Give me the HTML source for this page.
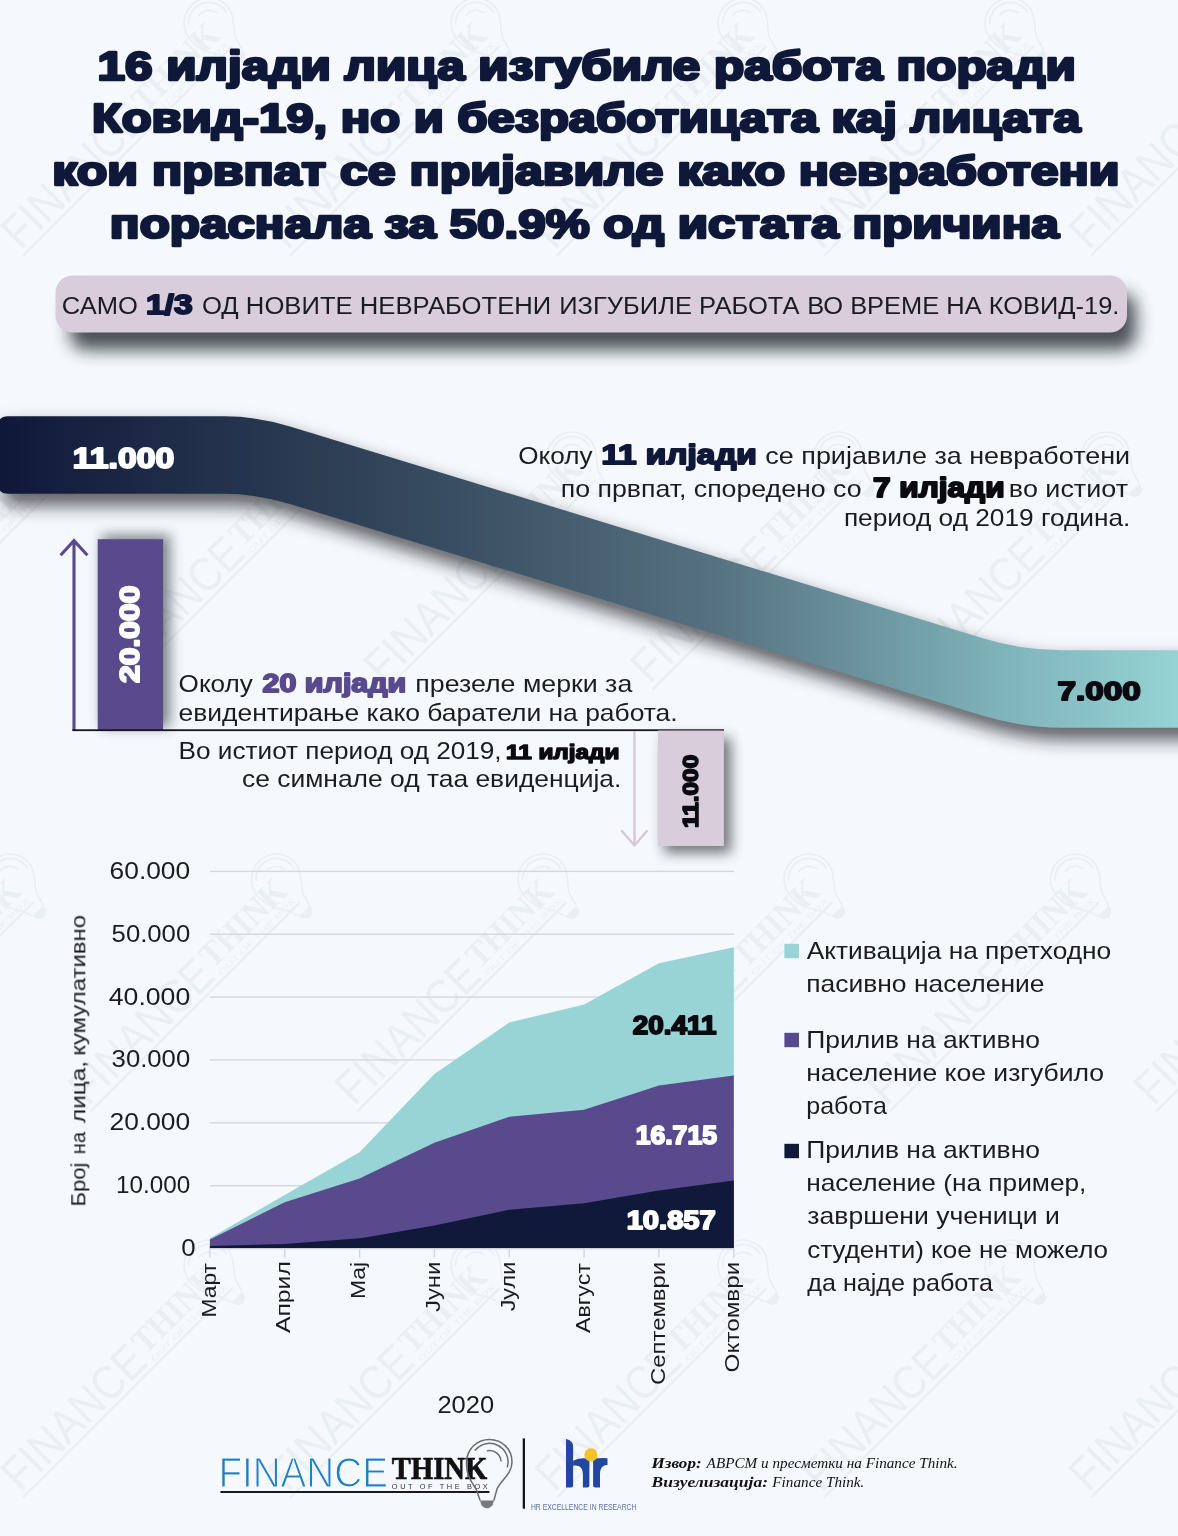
<!DOCTYPE html>
<html lang="mk">
<head>
<meta charset="utf-8">
<title>16 илјади лица изгубиле работа поради Ковид-19</title>
<style>
html,body{margin:0;padding:0;background:#f5f9fd;}
body{width:1178px;height:1536px;overflow:hidden;font-family:'Liberation Sans',sans-serif;}
svg{display:block;}
text{white-space:pre;font-feature-settings:"locl" 0;}
</style>
</head>
<body>
<svg width="1178" height="1536" viewBox="0 0 1178 1536">
<defs>
<linearGradient id="rib" x1="0" y1="0" x2="1178" y2="0" gradientUnits="userSpaceOnUse">
<stop offset="0" stop-color="#10183a"/>
<stop offset="0.3" stop-color="#2f4157"/>
<stop offset="0.6" stop-color="#55707f"/>
<stop offset="0.85" stop-color="#7fb3ba"/>
<stop offset="1" stop-color="#95d3d4"/>
</linearGradient>
<filter id="sh1" x="-10%" y="-80%" width="120%" height="300%"><feGaussianBlur stdDeviation="8.5"/></filter>
<filter id="sh2" x="-10%" y="-50%" width="120%" height="250%"><feGaussianBlur stdDeviation="8.5"/></filter>
<filter id="sh3" x="-50%" y="-20%" width="200%" height="140%"><feGaussianBlur stdDeviation="5"/></filter>
<filter id="sh4" x="-50%" y="-20%" width="200%" height="140%"><feGaussianBlur stdDeviation="6.5"/></filter>
</defs>
<rect width="1178" height="1536" fill="#f5f9fd"/>
<g opacity="0.068" fill="#5f6b78" stroke="none">
<g transform="translate(-246.5,251) rotate(-45) scale(1.1)"><text x="0" y="0" font-family="'Liberation Sans', sans-serif" font-size="42.7" textLength="166" lengthAdjust="spacingAndGlyphs">FINANCE</text><text x="169" y="-8.2" font-family="'Liberation Serif', serif" font-weight="bold" font-size="32" textLength="98" lengthAdjust="spacingAndGlyphs">THINK</text><text x="170" y="1.5" font-family="'Liberation Sans', sans-serif" font-size="6.8" textLength="96" lengthAdjust="spacingAndGlyphs">OUT OF THE BOX</text><rect x="-1.3" y="3.6" width="269" height="2"/><g fill="none" stroke="#5f6b78" stroke-width="1.5"><path d="M258.3,12.6 L254.8,2.6 C250.3,-5.4 244.3,-11.4 244.8,-25.4 C245.3,-39.4 256.3,-47.9 267.8,-47.9 C280.3,-47.9 290.3,-38.4 290.3,-25.4 C290.3,-13.4 279.3,-7.4 275.3,1.6 L272.3,12.6"/><path d="M253.6,-37.3 A18.5,18.5 0 0 1 285.7,-20.6"/><path d="M265.8,-36.7 A11.5,11.5 0 0 1 279.3,-26.4"/></g><path d="M258.3,13.1 L272.3,13.1 L270.8,18.1 Q265.3,23.6 259.8,18.1 Z"/></g>
<g transform="translate(20.5,251) rotate(-45) scale(1.1)"><text x="0" y="0" font-family="'Liberation Sans', sans-serif" font-size="42.7" textLength="166" lengthAdjust="spacingAndGlyphs">FINANCE</text><text x="169" y="-8.2" font-family="'Liberation Serif', serif" font-weight="bold" font-size="32" textLength="98" lengthAdjust="spacingAndGlyphs">THINK</text><text x="170" y="1.5" font-family="'Liberation Sans', sans-serif" font-size="6.8" textLength="96" lengthAdjust="spacingAndGlyphs">OUT OF THE BOX</text><rect x="-1.3" y="3.6" width="269" height="2"/><g fill="none" stroke="#5f6b78" stroke-width="1.5"><path d="M258.3,12.6 L254.8,2.6 C250.3,-5.4 244.3,-11.4 244.8,-25.4 C245.3,-39.4 256.3,-47.9 267.8,-47.9 C280.3,-47.9 290.3,-38.4 290.3,-25.4 C290.3,-13.4 279.3,-7.4 275.3,1.6 L272.3,12.6"/><path d="M253.6,-37.3 A18.5,18.5 0 0 1 285.7,-20.6"/><path d="M265.8,-36.7 A11.5,11.5 0 0 1 279.3,-26.4"/></g><path d="M258.3,13.1 L272.3,13.1 L270.8,18.1 Q265.3,23.6 259.8,18.1 Z"/></g>
<g transform="translate(287.5,251) rotate(-45) scale(1.1)"><text x="0" y="0" font-family="'Liberation Sans', sans-serif" font-size="42.7" textLength="166" lengthAdjust="spacingAndGlyphs">FINANCE</text><text x="169" y="-8.2" font-family="'Liberation Serif', serif" font-weight="bold" font-size="32" textLength="98" lengthAdjust="spacingAndGlyphs">THINK</text><text x="170" y="1.5" font-family="'Liberation Sans', sans-serif" font-size="6.8" textLength="96" lengthAdjust="spacingAndGlyphs">OUT OF THE BOX</text><rect x="-1.3" y="3.6" width="269" height="2"/><g fill="none" stroke="#5f6b78" stroke-width="1.5"><path d="M258.3,12.6 L254.8,2.6 C250.3,-5.4 244.3,-11.4 244.8,-25.4 C245.3,-39.4 256.3,-47.9 267.8,-47.9 C280.3,-47.9 290.3,-38.4 290.3,-25.4 C290.3,-13.4 279.3,-7.4 275.3,1.6 L272.3,12.6"/><path d="M253.6,-37.3 A18.5,18.5 0 0 1 285.7,-20.6"/><path d="M265.8,-36.7 A11.5,11.5 0 0 1 279.3,-26.4"/></g><path d="M258.3,13.1 L272.3,13.1 L270.8,18.1 Q265.3,23.6 259.8,18.1 Z"/></g>
<g transform="translate(554.5,251) rotate(-45) scale(1.1)"><text x="0" y="0" font-family="'Liberation Sans', sans-serif" font-size="42.7" textLength="166" lengthAdjust="spacingAndGlyphs">FINANCE</text><text x="169" y="-8.2" font-family="'Liberation Serif', serif" font-weight="bold" font-size="32" textLength="98" lengthAdjust="spacingAndGlyphs">THINK</text><text x="170" y="1.5" font-family="'Liberation Sans', sans-serif" font-size="6.8" textLength="96" lengthAdjust="spacingAndGlyphs">OUT OF THE BOX</text><rect x="-1.3" y="3.6" width="269" height="2"/><g fill="none" stroke="#5f6b78" stroke-width="1.5"><path d="M258.3,12.6 L254.8,2.6 C250.3,-5.4 244.3,-11.4 244.8,-25.4 C245.3,-39.4 256.3,-47.9 267.8,-47.9 C280.3,-47.9 290.3,-38.4 290.3,-25.4 C290.3,-13.4 279.3,-7.4 275.3,1.6 L272.3,12.6"/><path d="M253.6,-37.3 A18.5,18.5 0 0 1 285.7,-20.6"/><path d="M265.8,-36.7 A11.5,11.5 0 0 1 279.3,-26.4"/></g><path d="M258.3,13.1 L272.3,13.1 L270.8,18.1 Q265.3,23.6 259.8,18.1 Z"/></g>
<g transform="translate(821.5,251) rotate(-45) scale(1.1)"><text x="0" y="0" font-family="'Liberation Sans', sans-serif" font-size="42.7" textLength="166" lengthAdjust="spacingAndGlyphs">FINANCE</text><text x="169" y="-8.2" font-family="'Liberation Serif', serif" font-weight="bold" font-size="32" textLength="98" lengthAdjust="spacingAndGlyphs">THINK</text><text x="170" y="1.5" font-family="'Liberation Sans', sans-serif" font-size="6.8" textLength="96" lengthAdjust="spacingAndGlyphs">OUT OF THE BOX</text><rect x="-1.3" y="3.6" width="269" height="2"/><g fill="none" stroke="#5f6b78" stroke-width="1.5"><path d="M258.3,12.6 L254.8,2.6 C250.3,-5.4 244.3,-11.4 244.8,-25.4 C245.3,-39.4 256.3,-47.9 267.8,-47.9 C280.3,-47.9 290.3,-38.4 290.3,-25.4 C290.3,-13.4 279.3,-7.4 275.3,1.6 L272.3,12.6"/><path d="M253.6,-37.3 A18.5,18.5 0 0 1 285.7,-20.6"/><path d="M265.8,-36.7 A11.5,11.5 0 0 1 279.3,-26.4"/></g><path d="M258.3,13.1 L272.3,13.1 L270.8,18.1 Q265.3,23.6 259.8,18.1 Z"/></g>
<g transform="translate(1088.5,251) rotate(-45) scale(1.1)"><text x="0" y="0" font-family="'Liberation Sans', sans-serif" font-size="42.7" textLength="166" lengthAdjust="spacingAndGlyphs">FINANCE</text><text x="169" y="-8.2" font-family="'Liberation Serif', serif" font-weight="bold" font-size="32" textLength="98" lengthAdjust="spacingAndGlyphs">THINK</text><text x="170" y="1.5" font-family="'Liberation Sans', sans-serif" font-size="6.8" textLength="96" lengthAdjust="spacingAndGlyphs">OUT OF THE BOX</text><rect x="-1.3" y="3.6" width="269" height="2"/><g fill="none" stroke="#5f6b78" stroke-width="1.5"><path d="M258.3,12.6 L254.8,2.6 C250.3,-5.4 244.3,-11.4 244.8,-25.4 C245.3,-39.4 256.3,-47.9 267.8,-47.9 C280.3,-47.9 290.3,-38.4 290.3,-25.4 C290.3,-13.4 279.3,-7.4 275.3,1.6 L272.3,12.6"/><path d="M253.6,-37.3 A18.5,18.5 0 0 1 285.7,-20.6"/><path d="M265.8,-36.7 A11.5,11.5 0 0 1 279.3,-26.4"/></g><path d="M258.3,13.1 L272.3,13.1 L270.8,18.1 Q265.3,23.6 259.8,18.1 Z"/></g>
<g transform="translate(-149.5,685) rotate(-45) scale(1.1)"><text x="0" y="0" font-family="'Liberation Sans', sans-serif" font-size="42.7" textLength="166" lengthAdjust="spacingAndGlyphs">FINANCE</text><text x="169" y="-8.2" font-family="'Liberation Serif', serif" font-weight="bold" font-size="32" textLength="98" lengthAdjust="spacingAndGlyphs">THINK</text><text x="170" y="1.5" font-family="'Liberation Sans', sans-serif" font-size="6.8" textLength="96" lengthAdjust="spacingAndGlyphs">OUT OF THE BOX</text><rect x="-1.3" y="3.6" width="269" height="2"/><g fill="none" stroke="#5f6b78" stroke-width="1.5"><path d="M258.3,12.6 L254.8,2.6 C250.3,-5.4 244.3,-11.4 244.8,-25.4 C245.3,-39.4 256.3,-47.9 267.8,-47.9 C280.3,-47.9 290.3,-38.4 290.3,-25.4 C290.3,-13.4 279.3,-7.4 275.3,1.6 L272.3,12.6"/><path d="M253.6,-37.3 A18.5,18.5 0 0 1 285.7,-20.6"/><path d="M265.8,-36.7 A11.5,11.5 0 0 1 279.3,-26.4"/></g><path d="M258.3,13.1 L272.3,13.1 L270.8,18.1 Q265.3,23.6 259.8,18.1 Z"/></g>
<g transform="translate(117.5,685) rotate(-45) scale(1.1)"><text x="0" y="0" font-family="'Liberation Sans', sans-serif" font-size="42.7" textLength="166" lengthAdjust="spacingAndGlyphs">FINANCE</text><text x="169" y="-8.2" font-family="'Liberation Serif', serif" font-weight="bold" font-size="32" textLength="98" lengthAdjust="spacingAndGlyphs">THINK</text><text x="170" y="1.5" font-family="'Liberation Sans', sans-serif" font-size="6.8" textLength="96" lengthAdjust="spacingAndGlyphs">OUT OF THE BOX</text><rect x="-1.3" y="3.6" width="269" height="2"/><g fill="none" stroke="#5f6b78" stroke-width="1.5"><path d="M258.3,12.6 L254.8,2.6 C250.3,-5.4 244.3,-11.4 244.8,-25.4 C245.3,-39.4 256.3,-47.9 267.8,-47.9 C280.3,-47.9 290.3,-38.4 290.3,-25.4 C290.3,-13.4 279.3,-7.4 275.3,1.6 L272.3,12.6"/><path d="M253.6,-37.3 A18.5,18.5 0 0 1 285.7,-20.6"/><path d="M265.8,-36.7 A11.5,11.5 0 0 1 279.3,-26.4"/></g><path d="M258.3,13.1 L272.3,13.1 L270.8,18.1 Q265.3,23.6 259.8,18.1 Z"/></g>
<g transform="translate(383.5,685) rotate(-45) scale(1.1)"><text x="0" y="0" font-family="'Liberation Sans', sans-serif" font-size="42.7" textLength="166" lengthAdjust="spacingAndGlyphs">FINANCE</text><text x="169" y="-8.2" font-family="'Liberation Serif', serif" font-weight="bold" font-size="32" textLength="98" lengthAdjust="spacingAndGlyphs">THINK</text><text x="170" y="1.5" font-family="'Liberation Sans', sans-serif" font-size="6.8" textLength="96" lengthAdjust="spacingAndGlyphs">OUT OF THE BOX</text><rect x="-1.3" y="3.6" width="269" height="2"/><g fill="none" stroke="#5f6b78" stroke-width="1.5"><path d="M258.3,12.6 L254.8,2.6 C250.3,-5.4 244.3,-11.4 244.8,-25.4 C245.3,-39.4 256.3,-47.9 267.8,-47.9 C280.3,-47.9 290.3,-38.4 290.3,-25.4 C290.3,-13.4 279.3,-7.4 275.3,1.6 L272.3,12.6"/><path d="M253.6,-37.3 A18.5,18.5 0 0 1 285.7,-20.6"/><path d="M265.8,-36.7 A11.5,11.5 0 0 1 279.3,-26.4"/></g><path d="M258.3,13.1 L272.3,13.1 L270.8,18.1 Q265.3,23.6 259.8,18.1 Z"/></g>
<g transform="translate(650.0,685) rotate(-45) scale(1.1)"><text x="0" y="0" font-family="'Liberation Sans', sans-serif" font-size="42.7" textLength="166" lengthAdjust="spacingAndGlyphs">FINANCE</text><text x="169" y="-8.2" font-family="'Liberation Serif', serif" font-weight="bold" font-size="32" textLength="98" lengthAdjust="spacingAndGlyphs">THINK</text><text x="170" y="1.5" font-family="'Liberation Sans', sans-serif" font-size="6.8" textLength="96" lengthAdjust="spacingAndGlyphs">OUT OF THE BOX</text><rect x="-1.3" y="3.6" width="269" height="2"/><g fill="none" stroke="#5f6b78" stroke-width="1.5"><path d="M258.3,12.6 L254.8,2.6 C250.3,-5.4 244.3,-11.4 244.8,-25.4 C245.3,-39.4 256.3,-47.9 267.8,-47.9 C280.3,-47.9 290.3,-38.4 290.3,-25.4 C290.3,-13.4 279.3,-7.4 275.3,1.6 L272.3,12.6"/><path d="M253.6,-37.3 A18.5,18.5 0 0 1 285.7,-20.6"/><path d="M265.8,-36.7 A11.5,11.5 0 0 1 279.3,-26.4"/></g><path d="M258.3,13.1 L272.3,13.1 L270.8,18.1 Q265.3,23.6 259.8,18.1 Z"/></g>
<g transform="translate(917.5,685) rotate(-45) scale(1.1)"><text x="0" y="0" font-family="'Liberation Sans', sans-serif" font-size="42.7" textLength="166" lengthAdjust="spacingAndGlyphs">FINANCE</text><text x="169" y="-8.2" font-family="'Liberation Serif', serif" font-weight="bold" font-size="32" textLength="98" lengthAdjust="spacingAndGlyphs">THINK</text><text x="170" y="1.5" font-family="'Liberation Sans', sans-serif" font-size="6.8" textLength="96" lengthAdjust="spacingAndGlyphs">OUT OF THE BOX</text><rect x="-1.3" y="3.6" width="269" height="2"/><g fill="none" stroke="#5f6b78" stroke-width="1.5"><path d="M258.3,12.6 L254.8,2.6 C250.3,-5.4 244.3,-11.4 244.8,-25.4 C245.3,-39.4 256.3,-47.9 267.8,-47.9 C280.3,-47.9 290.3,-38.4 290.3,-25.4 C290.3,-13.4 279.3,-7.4 275.3,1.6 L272.3,12.6"/><path d="M253.6,-37.3 A18.5,18.5 0 0 1 285.7,-20.6"/><path d="M265.8,-36.7 A11.5,11.5 0 0 1 279.3,-26.4"/></g><path d="M258.3,13.1 L272.3,13.1 L270.8,18.1 Q265.3,23.6 259.8,18.1 Z"/></g>
<g transform="translate(-178.5,1107) rotate(-45) scale(1.1)"><text x="0" y="0" font-family="'Liberation Sans', sans-serif" font-size="42.7" textLength="166" lengthAdjust="spacingAndGlyphs">FINANCE</text><text x="169" y="-8.2" font-family="'Liberation Serif', serif" font-weight="bold" font-size="32" textLength="98" lengthAdjust="spacingAndGlyphs">THINK</text><text x="170" y="1.5" font-family="'Liberation Sans', sans-serif" font-size="6.8" textLength="96" lengthAdjust="spacingAndGlyphs">OUT OF THE BOX</text><rect x="-1.3" y="3.6" width="269" height="2"/><g fill="none" stroke="#5f6b78" stroke-width="1.5"><path d="M258.3,12.6 L254.8,2.6 C250.3,-5.4 244.3,-11.4 244.8,-25.4 C245.3,-39.4 256.3,-47.9 267.8,-47.9 C280.3,-47.9 290.3,-38.4 290.3,-25.4 C290.3,-13.4 279.3,-7.4 275.3,1.6 L272.3,12.6"/><path d="M253.6,-37.3 A18.5,18.5 0 0 1 285.7,-20.6"/><path d="M265.8,-36.7 A11.5,11.5 0 0 1 279.3,-26.4"/></g><path d="M258.3,13.1 L272.3,13.1 L270.8,18.1 Q265.3,23.6 259.8,18.1 Z"/></g>
<g transform="translate(87.9,1107) rotate(-45) scale(1.1)"><text x="0" y="0" font-family="'Liberation Sans', sans-serif" font-size="42.7" textLength="166" lengthAdjust="spacingAndGlyphs">FINANCE</text><text x="169" y="-8.2" font-family="'Liberation Serif', serif" font-weight="bold" font-size="32" textLength="98" lengthAdjust="spacingAndGlyphs">THINK</text><text x="170" y="1.5" font-family="'Liberation Sans', sans-serif" font-size="6.8" textLength="96" lengthAdjust="spacingAndGlyphs">OUT OF THE BOX</text><rect x="-1.3" y="3.6" width="269" height="2"/><g fill="none" stroke="#5f6b78" stroke-width="1.5"><path d="M258.3,12.6 L254.8,2.6 C250.3,-5.4 244.3,-11.4 244.8,-25.4 C245.3,-39.4 256.3,-47.9 267.8,-47.9 C280.3,-47.9 290.3,-38.4 290.3,-25.4 C290.3,-13.4 279.3,-7.4 275.3,1.6 L272.3,12.6"/><path d="M253.6,-37.3 A18.5,18.5 0 0 1 285.7,-20.6"/><path d="M265.8,-36.7 A11.5,11.5 0 0 1 279.3,-26.4"/></g><path d="M258.3,13.1 L272.3,13.1 L270.8,18.1 Q265.3,23.6 259.8,18.1 Z"/></g>
<g transform="translate(354.5,1107) rotate(-45) scale(1.1)"><text x="0" y="0" font-family="'Liberation Sans', sans-serif" font-size="42.7" textLength="166" lengthAdjust="spacingAndGlyphs">FINANCE</text><text x="169" y="-8.2" font-family="'Liberation Serif', serif" font-weight="bold" font-size="32" textLength="98" lengthAdjust="spacingAndGlyphs">THINK</text><text x="170" y="1.5" font-family="'Liberation Sans', sans-serif" font-size="6.8" textLength="96" lengthAdjust="spacingAndGlyphs">OUT OF THE BOX</text><rect x="-1.3" y="3.6" width="269" height="2"/><g fill="none" stroke="#5f6b78" stroke-width="1.5"><path d="M258.3,12.6 L254.8,2.6 C250.3,-5.4 244.3,-11.4 244.8,-25.4 C245.3,-39.4 256.3,-47.9 267.8,-47.9 C280.3,-47.9 290.3,-38.4 290.3,-25.4 C290.3,-13.4 279.3,-7.4 275.3,1.6 L272.3,12.6"/><path d="M253.6,-37.3 A18.5,18.5 0 0 1 285.7,-20.6"/><path d="M265.8,-36.7 A11.5,11.5 0 0 1 279.3,-26.4"/></g><path d="M258.3,13.1 L272.3,13.1 L270.8,18.1 Q265.3,23.6 259.8,18.1 Z"/></g>
<g transform="translate(620.5,1107) rotate(-45) scale(1.1)"><text x="0" y="0" font-family="'Liberation Sans', sans-serif" font-size="42.7" textLength="166" lengthAdjust="spacingAndGlyphs">FINANCE</text><text x="169" y="-8.2" font-family="'Liberation Serif', serif" font-weight="bold" font-size="32" textLength="98" lengthAdjust="spacingAndGlyphs">THINK</text><text x="170" y="1.5" font-family="'Liberation Sans', sans-serif" font-size="6.8" textLength="96" lengthAdjust="spacingAndGlyphs">OUT OF THE BOX</text><rect x="-1.3" y="3.6" width="269" height="2"/><g fill="none" stroke="#5f6b78" stroke-width="1.5"><path d="M258.3,12.6 L254.8,2.6 C250.3,-5.4 244.3,-11.4 244.8,-25.4 C245.3,-39.4 256.3,-47.9 267.8,-47.9 C280.3,-47.9 290.3,-38.4 290.3,-25.4 C290.3,-13.4 279.3,-7.4 275.3,1.6 L272.3,12.6"/><path d="M253.6,-37.3 A18.5,18.5 0 0 1 285.7,-20.6"/><path d="M265.8,-36.7 A11.5,11.5 0 0 1 279.3,-26.4"/></g><path d="M258.3,13.1 L272.3,13.1 L270.8,18.1 Q265.3,23.6 259.8,18.1 Z"/></g>
<g transform="translate(887.0,1107) rotate(-45) scale(1.1)"><text x="0" y="0" font-family="'Liberation Sans', sans-serif" font-size="42.7" textLength="166" lengthAdjust="spacingAndGlyphs">FINANCE</text><text x="169" y="-8.2" font-family="'Liberation Serif', serif" font-weight="bold" font-size="32" textLength="98" lengthAdjust="spacingAndGlyphs">THINK</text><text x="170" y="1.5" font-family="'Liberation Sans', sans-serif" font-size="6.8" textLength="96" lengthAdjust="spacingAndGlyphs">OUT OF THE BOX</text><rect x="-1.3" y="3.6" width="269" height="2"/><g fill="none" stroke="#5f6b78" stroke-width="1.5"><path d="M258.3,12.6 L254.8,2.6 C250.3,-5.4 244.3,-11.4 244.8,-25.4 C245.3,-39.4 256.3,-47.9 267.8,-47.9 C280.3,-47.9 290.3,-38.4 290.3,-25.4 C290.3,-13.4 279.3,-7.4 275.3,1.6 L272.3,12.6"/><path d="M253.6,-37.3 A18.5,18.5 0 0 1 285.7,-20.6"/><path d="M265.8,-36.7 A11.5,11.5 0 0 1 279.3,-26.4"/></g><path d="M258.3,13.1 L272.3,13.1 L270.8,18.1 Q265.3,23.6 259.8,18.1 Z"/></g>
<g transform="translate(1153.5,1107) rotate(-45) scale(1.1)"><text x="0" y="0" font-family="'Liberation Sans', sans-serif" font-size="42.7" textLength="166" lengthAdjust="spacingAndGlyphs">FINANCE</text><text x="169" y="-8.2" font-family="'Liberation Serif', serif" font-weight="bold" font-size="32" textLength="98" lengthAdjust="spacingAndGlyphs">THINK</text><text x="170" y="1.5" font-family="'Liberation Sans', sans-serif" font-size="6.8" textLength="96" lengthAdjust="spacingAndGlyphs">OUT OF THE BOX</text><rect x="-1.3" y="3.6" width="269" height="2"/><g fill="none" stroke="#5f6b78" stroke-width="1.5"><path d="M258.3,12.6 L254.8,2.6 C250.3,-5.4 244.3,-11.4 244.8,-25.4 C245.3,-39.4 256.3,-47.9 267.8,-47.9 C280.3,-47.9 290.3,-38.4 290.3,-25.4 C290.3,-13.4 279.3,-7.4 275.3,1.6 L272.3,12.6"/><path d="M253.6,-37.3 A18.5,18.5 0 0 1 285.7,-20.6"/><path d="M265.8,-36.7 A11.5,11.5 0 0 1 279.3,-26.4"/></g><path d="M258.3,13.1 L272.3,13.1 L270.8,18.1 Q265.3,23.6 259.8,18.1 Z"/></g>
<g transform="translate(-246.5,1493) rotate(-45) scale(1.1)"><text x="0" y="0" font-family="'Liberation Sans', sans-serif" font-size="42.7" textLength="166" lengthAdjust="spacingAndGlyphs">FINANCE</text><text x="169" y="-8.2" font-family="'Liberation Serif', serif" font-weight="bold" font-size="32" textLength="98" lengthAdjust="spacingAndGlyphs">THINK</text><text x="170" y="1.5" font-family="'Liberation Sans', sans-serif" font-size="6.8" textLength="96" lengthAdjust="spacingAndGlyphs">OUT OF THE BOX</text><rect x="-1.3" y="3.6" width="269" height="2"/><g fill="none" stroke="#5f6b78" stroke-width="1.5"><path d="M258.3,12.6 L254.8,2.6 C250.3,-5.4 244.3,-11.4 244.8,-25.4 C245.3,-39.4 256.3,-47.9 267.8,-47.9 C280.3,-47.9 290.3,-38.4 290.3,-25.4 C290.3,-13.4 279.3,-7.4 275.3,1.6 L272.3,12.6"/><path d="M253.6,-37.3 A18.5,18.5 0 0 1 285.7,-20.6"/><path d="M265.8,-36.7 A11.5,11.5 0 0 1 279.3,-26.4"/></g><path d="M258.3,13.1 L272.3,13.1 L270.8,18.1 Q265.3,23.6 259.8,18.1 Z"/></g>
<g transform="translate(20.5,1493) rotate(-45) scale(1.1)"><text x="0" y="0" font-family="'Liberation Sans', sans-serif" font-size="42.7" textLength="166" lengthAdjust="spacingAndGlyphs">FINANCE</text><text x="169" y="-8.2" font-family="'Liberation Serif', serif" font-weight="bold" font-size="32" textLength="98" lengthAdjust="spacingAndGlyphs">THINK</text><text x="170" y="1.5" font-family="'Liberation Sans', sans-serif" font-size="6.8" textLength="96" lengthAdjust="spacingAndGlyphs">OUT OF THE BOX</text><rect x="-1.3" y="3.6" width="269" height="2"/><g fill="none" stroke="#5f6b78" stroke-width="1.5"><path d="M258.3,12.6 L254.8,2.6 C250.3,-5.4 244.3,-11.4 244.8,-25.4 C245.3,-39.4 256.3,-47.9 267.8,-47.9 C280.3,-47.9 290.3,-38.4 290.3,-25.4 C290.3,-13.4 279.3,-7.4 275.3,1.6 L272.3,12.6"/><path d="M253.6,-37.3 A18.5,18.5 0 0 1 285.7,-20.6"/><path d="M265.8,-36.7 A11.5,11.5 0 0 1 279.3,-26.4"/></g><path d="M258.3,13.1 L272.3,13.1 L270.8,18.1 Q265.3,23.6 259.8,18.1 Z"/></g>
<g transform="translate(287.5,1493) rotate(-45) scale(1.1)"><text x="0" y="0" font-family="'Liberation Sans', sans-serif" font-size="42.7" textLength="166" lengthAdjust="spacingAndGlyphs">FINANCE</text><text x="169" y="-8.2" font-family="'Liberation Serif', serif" font-weight="bold" font-size="32" textLength="98" lengthAdjust="spacingAndGlyphs">THINK</text><text x="170" y="1.5" font-family="'Liberation Sans', sans-serif" font-size="6.8" textLength="96" lengthAdjust="spacingAndGlyphs">OUT OF THE BOX</text><rect x="-1.3" y="3.6" width="269" height="2"/><g fill="none" stroke="#5f6b78" stroke-width="1.5"><path d="M258.3,12.6 L254.8,2.6 C250.3,-5.4 244.3,-11.4 244.8,-25.4 C245.3,-39.4 256.3,-47.9 267.8,-47.9 C280.3,-47.9 290.3,-38.4 290.3,-25.4 C290.3,-13.4 279.3,-7.4 275.3,1.6 L272.3,12.6"/><path d="M253.6,-37.3 A18.5,18.5 0 0 1 285.7,-20.6"/><path d="M265.8,-36.7 A11.5,11.5 0 0 1 279.3,-26.4"/></g><path d="M258.3,13.1 L272.3,13.1 L270.8,18.1 Q265.3,23.6 259.8,18.1 Z"/></g>
<g transform="translate(554.5,1493) rotate(-45) scale(1.1)"><text x="0" y="0" font-family="'Liberation Sans', sans-serif" font-size="42.7" textLength="166" lengthAdjust="spacingAndGlyphs">FINANCE</text><text x="169" y="-8.2" font-family="'Liberation Serif', serif" font-weight="bold" font-size="32" textLength="98" lengthAdjust="spacingAndGlyphs">THINK</text><text x="170" y="1.5" font-family="'Liberation Sans', sans-serif" font-size="6.8" textLength="96" lengthAdjust="spacingAndGlyphs">OUT OF THE BOX</text><rect x="-1.3" y="3.6" width="269" height="2"/><g fill="none" stroke="#5f6b78" stroke-width="1.5"><path d="M258.3,12.6 L254.8,2.6 C250.3,-5.4 244.3,-11.4 244.8,-25.4 C245.3,-39.4 256.3,-47.9 267.8,-47.9 C280.3,-47.9 290.3,-38.4 290.3,-25.4 C290.3,-13.4 279.3,-7.4 275.3,1.6 L272.3,12.6"/><path d="M253.6,-37.3 A18.5,18.5 0 0 1 285.7,-20.6"/><path d="M265.8,-36.7 A11.5,11.5 0 0 1 279.3,-26.4"/></g><path d="M258.3,13.1 L272.3,13.1 L270.8,18.1 Q265.3,23.6 259.8,18.1 Z"/></g>
<g transform="translate(821.5,1493) rotate(-45) scale(1.1)"><text x="0" y="0" font-family="'Liberation Sans', sans-serif" font-size="42.7" textLength="166" lengthAdjust="spacingAndGlyphs">FINANCE</text><text x="169" y="-8.2" font-family="'Liberation Serif', serif" font-weight="bold" font-size="32" textLength="98" lengthAdjust="spacingAndGlyphs">THINK</text><text x="170" y="1.5" font-family="'Liberation Sans', sans-serif" font-size="6.8" textLength="96" lengthAdjust="spacingAndGlyphs">OUT OF THE BOX</text><rect x="-1.3" y="3.6" width="269" height="2"/><g fill="none" stroke="#5f6b78" stroke-width="1.5"><path d="M258.3,12.6 L254.8,2.6 C250.3,-5.4 244.3,-11.4 244.8,-25.4 C245.3,-39.4 256.3,-47.9 267.8,-47.9 C280.3,-47.9 290.3,-38.4 290.3,-25.4 C290.3,-13.4 279.3,-7.4 275.3,1.6 L272.3,12.6"/><path d="M253.6,-37.3 A18.5,18.5 0 0 1 285.7,-20.6"/><path d="M265.8,-36.7 A11.5,11.5 0 0 1 279.3,-26.4"/></g><path d="M258.3,13.1 L272.3,13.1 L270.8,18.1 Q265.3,23.6 259.8,18.1 Z"/></g>
<g transform="translate(1088.5,1493) rotate(-45) scale(1.1)"><text x="0" y="0" font-family="'Liberation Sans', sans-serif" font-size="42.7" textLength="166" lengthAdjust="spacingAndGlyphs">FINANCE</text><text x="169" y="-8.2" font-family="'Liberation Serif', serif" font-weight="bold" font-size="32" textLength="98" lengthAdjust="spacingAndGlyphs">THINK</text><text x="170" y="1.5" font-family="'Liberation Sans', sans-serif" font-size="6.8" textLength="96" lengthAdjust="spacingAndGlyphs">OUT OF THE BOX</text><rect x="-1.3" y="3.6" width="269" height="2"/><g fill="none" stroke="#5f6b78" stroke-width="1.5"><path d="M258.3,12.6 L254.8,2.6 C250.3,-5.4 244.3,-11.4 244.8,-25.4 C245.3,-39.4 256.3,-47.9 267.8,-47.9 C280.3,-47.9 290.3,-38.4 290.3,-25.4 C290.3,-13.4 279.3,-7.4 275.3,1.6 L272.3,12.6"/><path d="M253.6,-37.3 A18.5,18.5 0 0 1 285.7,-20.6"/><path d="M265.8,-36.7 A11.5,11.5 0 0 1 279.3,-26.4"/></g><path d="M258.3,13.1 L272.3,13.1 L270.8,18.1 Q265.3,23.6 259.8,18.1 Z"/></g>
</g>

<text x="97.58" y="79.8" font-family="'Liberation Sans', sans-serif" font-size="40" fill="#10183a" font-weight="bold" textLength="978.17" lengthAdjust="spacingAndGlyphs" stroke="#10183a" stroke-width="2.7" stroke-linejoin="round">16 илјади лица изгубиле работа поради</text>
<text x="91.9" y="132.4" font-family="'Liberation Sans', sans-serif" font-size="40" fill="#10183a" font-weight="bold" textLength="988.62" lengthAdjust="spacingAndGlyphs" stroke="#10183a" stroke-width="2.7" stroke-linejoin="round">Ковид-19, но и безработицата кај лицата</text>
<text x="52.35" y="185" font-family="'Liberation Sans', sans-serif" font-size="40" fill="#10183a" font-weight="bold" textLength="1067.24" lengthAdjust="spacingAndGlyphs" stroke="#10183a" stroke-width="2.7" stroke-linejoin="round">кои првпат се пријавиле како невработени</text>
<text x="109.88" y="237.6" font-family="'Liberation Sans', sans-serif" font-size="40" fill="#10183a" font-weight="bold" textLength="949.04" lengthAdjust="spacingAndGlyphs" stroke="#10183a" stroke-width="2.7" stroke-linejoin="round">пораснала за 50.9% од истата причина</text>
<rect x="70" y="293" width="1066" height="57" rx="16" fill="#2c3037" opacity="0.85" filter="url(#sh1)"/>
<rect x="55.5" y="275.5" width="1071.5" height="57" rx="17" fill="#d9cddc"/>
<text x="61.87" y="314" font-family="'Liberation Sans', sans-serif" font-size="24.8" fill="#1b1b22" textLength="76.03" lengthAdjust="spacingAndGlyphs">САМО</text>
<text x="201.97" y="314" font-family="'Liberation Sans', sans-serif" font-size="24.8" fill="#1b1b22" textLength="349.32" lengthAdjust="spacingAndGlyphs">ОД НОВИТЕ НЕВРАБОТЕНИ</text>
<text x="559.24" y="314" font-family="'Liberation Sans', sans-serif" font-size="24.8" fill="#1b1b22" textLength="240.29" lengthAdjust="spacingAndGlyphs">ИЗГУБИЛЕ РАБОТА</text>
<text x="807.15" y="314" font-family="'Liberation Sans', sans-serif" font-size="24.8" fill="#1b1b22" textLength="312.29" lengthAdjust="spacingAndGlyphs">ВО ВРЕМЕ НА КОВИД-19.</text>
<text x="145.92" y="314" font-family="'Liberation Sans', sans-serif" font-size="28.5" fill="#10183a" font-weight="bold" textLength="46.68" lengthAdjust="spacingAndGlyphs" stroke="#10183a" stroke-width="2.0" stroke-linejoin="round">1/3</text>
<path d="M9,419.3 L225,419.3 Q258,419.3 291,429.4 L983,641.1 Q1023,653.3 1063,653.3 L1201,653.3 L1201,730.8 L1063,730.8 Q1023,730.8 983,718.6 L291,506.9 Q258,496.8 225,496.8 L9,496.8 Q-1,496.8 -1,486.8 L-1,429.3 Q-1,419.3 9,419.3 Z" fill="#1a1e24" opacity="0.16" filter="url(#sh2)"/>
<path d="M14,429.3 L230,429.3 Q263,429.3 296,439.4 L988,651.1 Q1028,663.3 1068,663.3 L1206,663.3 L1206,740.8 L1068,740.8 Q1028,740.8 988,728.6 L296,516.9 Q263,506.8 230,506.8 L14,506.8 Q4,506.8 4,496.8 L4,439.3 Q4,429.3 14,429.3 Z" fill="#1a1e24" opacity="0.62" filter="url(#sh2)"/>
<path d="M8,416.3 L224,416.3 Q257,416.3 290,426.4 L982,638.1 Q1022,650.3 1062,650.3 L1200,650.3 L1200,727.8 L1062,727.8 Q1022,727.8 982,715.6 L290,503.9 Q257,493.8 224,493.8 L8,493.8 Q-2,493.8 -2,483.8 L-2,426.3 Q-2,416.3 8,416.3 Z" fill="url(#rib)"/>
<text x="72.84" y="467.7" font-family="'Liberation Sans', sans-serif" font-size="29" fill="#ffffff" font-weight="bold" textLength="101.38" lengthAdjust="spacingAndGlyphs" stroke="#ffffff" stroke-width="2.0" stroke-linejoin="round">11.000</text>
<text x="1057.59" y="700.1" font-family="'Liberation Sans', sans-serif" font-size="26.5" fill="#0a0a10" font-weight="bold" textLength="83.28" lengthAdjust="spacingAndGlyphs" stroke="#0a0a10" stroke-width="1.9" stroke-linejoin="round">7.000</text>
<text x="518.21" y="464.2" font-family="'Liberation Sans', sans-serif" font-size="24" fill="#1b1b22" textLength="74.29" lengthAdjust="spacingAndGlyphs">Околу</text>
<text x="601.41" y="464.2" font-family="'Liberation Sans', sans-serif" font-size="28" fill="#10183a" font-weight="bold" textLength="155.33" lengthAdjust="spacingAndGlyphs" stroke="#10183a" stroke-width="2.0" stroke-linejoin="round">11 илјади</text>
<text x="765.38" y="464.2" font-family="'Liberation Sans', sans-serif" font-size="24" fill="#1b1b22" textLength="364.7" lengthAdjust="spacingAndGlyphs">се пријавиле за невработени</text>
<text x="560.69" y="497.4" font-family="'Liberation Sans', sans-serif" font-size="24" fill="#1b1b22" textLength="300.9" lengthAdjust="spacingAndGlyphs">по првпат, споредено со</text>
<text x="872.97" y="497.4" font-family="'Liberation Sans', sans-serif" font-size="28" fill="#0a0a10" font-weight="bold" textLength="131.6" lengthAdjust="spacingAndGlyphs" stroke="#0a0a10" stroke-width="2.0" stroke-linejoin="round">7 илјади</text>
<text x="1008.88" y="497.4" font-family="'Liberation Sans', sans-serif" font-size="24" fill="#1b1b22" textLength="119.11" lengthAdjust="spacingAndGlyphs">во истиот</text>
<text x="843.91" y="526.4" font-family="'Liberation Sans', sans-serif" font-size="24" fill="#1b1b22" textLength="286.42" lengthAdjust="spacingAndGlyphs">период од 2019 година.</text>
<rect x="102" y="535" width="68" height="192" fill="#2c3037" opacity="0.6" filter="url(#sh4)"/>
<rect x="97.7" y="539.2" width="65.4" height="191" fill="#584a8c"/>
<path d="M74,730 L74,541.5 M60.6,555.2 L74,540.6 L87.4,555.2" fill="none" stroke="#584a8c" stroke-width="3.1"/>
<rect x="72.3" y="729.3" width="651.7" height="1.8" fill="#15151c"/>
<g transform="translate(138.6,684) rotate(-90)">
<text x="1.0" y="0" font-family="'Liberation Sans', sans-serif" font-size="27" fill="#ffffff" font-weight="bold" textLength="97.6" lengthAdjust="spacingAndGlyphs" stroke="#ffffff" stroke-width="2.0" stroke-linejoin="round">20.000</text>
</g>
<text x="178.61" y="691.8" font-family="'Liberation Sans', sans-serif" font-size="24" fill="#1b1b22" textLength="74.19" lengthAdjust="spacingAndGlyphs">Околу</text>
<text x="262.6" y="691.8" font-family="'Liberation Sans', sans-serif" font-size="25" fill="#584a8c" font-weight="bold" textLength="143.67" lengthAdjust="spacingAndGlyphs" stroke="#584a8c" stroke-width="1.8" stroke-linejoin="round">20 илјади</text>
<text x="415.39" y="691.8" font-family="'Liberation Sans', sans-serif" font-size="24" fill="#1b1b22" textLength="216.89" lengthAdjust="spacingAndGlyphs">презеле мерки за</text>
<text x="178.6" y="721.1" font-family="'Liberation Sans', sans-serif" font-size="24" fill="#1b1b22" textLength="499.04" lengthAdjust="spacingAndGlyphs">евидентирање како баратели на работа.</text>
<text x="178.61" y="758.5" font-family="'Liberation Sans', sans-serif" font-size="24" fill="#1b1b22" textLength="323.01" lengthAdjust="spacingAndGlyphs">Во истиот период од 2019,</text>
<text x="505.96" y="758.5" font-family="'Liberation Sans', sans-serif" font-size="20.5" fill="#0a0a10" font-weight="bold" textLength="113.5" lengthAdjust="spacingAndGlyphs" stroke="#0a0a10" stroke-width="1.5" stroke-linejoin="round">11 илјади</text>
<text x="242.0" y="787" font-family="'Liberation Sans', sans-serif" font-size="24" fill="#1b1b22" textLength="379.34" lengthAdjust="spacingAndGlyphs">се симнале од таа евиденција.</text>
<rect x="664" y="738" width="67" height="115" fill="#2a2d33" opacity="0.65" filter="url(#sh4)"/>
<rect x="657.9" y="730.5" width="66" height="115.5" fill="#d9cddc"/>
<path d="M634.5,731 L634.5,844.5 M621.3,830.3 L634.5,845.5 L647.5,830.3" fill="none" stroke="#d6c8d9" stroke-width="2.4"/>
<g transform="translate(698,827.7) rotate(-90)">
<text x="-0.28" y="0" font-family="'Liberation Sans', sans-serif" font-size="22.5" fill="#0a0a10" font-weight="bold" textLength="73.14" lengthAdjust="spacingAndGlyphs" stroke="#0a0a10" stroke-width="1.6" stroke-linejoin="round">11.000</text>
</g>
<rect x="209.9" y="1185.0" width="524.3" height="1.4" fill="#d6d7db"/>
<text x="115.95" y="1193.1" font-family="'Liberation Sans', sans-serif" font-size="23.2" fill="#1b1b22" textLength="74.18" lengthAdjust="spacingAndGlyphs">10.000</text>
<rect x="209.9" y="1122.1" width="524.3" height="1.4" fill="#d6d7db"/>
<text x="109.56" y="1130.2" font-family="'Liberation Sans', sans-serif" font-size="23.2" fill="#1b1b22" textLength="80.66" lengthAdjust="spacingAndGlyphs">20.000</text>
<rect x="209.9" y="1059.2" width="524.3" height="1.4" fill="#d6d7db"/>
<text x="111.6" y="1067.4" font-family="'Liberation Sans', sans-serif" font-size="23.2" fill="#1b1b22" textLength="78.59" lengthAdjust="spacingAndGlyphs">30.000</text>
<rect x="209.9" y="996.4" width="524.3" height="1.4" fill="#d6d7db"/>
<text x="108.8" y="1004.5" font-family="'Liberation Sans', sans-serif" font-size="23.2" fill="#1b1b22" textLength="81.43" lengthAdjust="spacingAndGlyphs">40.000</text>
<rect x="209.9" y="933.5" width="524.3" height="1.4" fill="#d6d7db"/>
<text x="111.6" y="941.6" font-family="'Liberation Sans', sans-serif" font-size="23.2" fill="#1b1b22" textLength="78.59" lengthAdjust="spacingAndGlyphs">50.000</text>
<rect x="209.9" y="870.7" width="524.3" height="1.4" fill="#d6d7db"/>
<text x="109.56" y="878.8" font-family="'Liberation Sans', sans-serif" font-size="23.2" fill="#1b1b22" textLength="80.66" lengthAdjust="spacingAndGlyphs">60.000</text>
<text x="181.2" y="1256.1" font-family="'Liberation Sans', sans-serif" font-size="23.2" fill="#1b1b22" textLength="14.4" lengthAdjust="spacingAndGlyphs">0</text>
<polygon points="209.9,1248.5 209.9,1238.3 284.7,1195 359.6,1152.2 434.4,1074 509.3,1022.4 584.1,1004.5 658.9,963.3 733.8,947.2 733.8,1248.5" fill="#98d3d5"/>
<polygon points="209.9,1248.5 209.9,1239.6 284.7,1202.2 359.6,1178.5 434.4,1142.8 509.3,1116.8 584.1,1109.7 658.9,1085.5 733.8,1075.5 733.8,1248.5" fill="#584a8c"/>
<polygon points="209.9,1248.5 209.9,1246 284.7,1243.9 359.6,1238.3 434.4,1225.6 509.3,1209.8 584.1,1203.2 658.9,1190.4 733.8,1180.5 733.8,1248.5" fill="#11193a"/>
<rect x="209.9" y="1248.0" width="524.3" height="1.4" fill="#d0d2d8"/>
<rect x="209.2" y="1248.5" width="1.4" height="9" fill="#d3d5da"/>
<rect x="284.0" y="1248.5" width="1.4" height="9" fill="#d3d5da"/>
<rect x="358.9" y="1248.5" width="1.4" height="9" fill="#d3d5da"/>
<rect x="433.7" y="1248.5" width="1.4" height="9" fill="#d3d5da"/>
<rect x="508.6" y="1248.5" width="1.4" height="9" fill="#d3d5da"/>
<rect x="583.4" y="1248.5" width="1.4" height="9" fill="#d3d5da"/>
<rect x="658.2" y="1248.5" width="1.4" height="9" fill="#d3d5da"/>
<rect x="733.1" y="1248.5" width="1.4" height="9" fill="#d3d5da"/>
<text x="632.85" y="1033.8" font-family="'Liberation Sans', sans-serif" font-size="26.5" fill="#0a0a10" font-weight="bold" textLength="83.68" lengthAdjust="spacingAndGlyphs" stroke="#0a0a10" stroke-width="1.9" stroke-linejoin="round">20.411</text>
<text x="635.65" y="1143.6" font-family="'Liberation Sans', sans-serif" font-size="26.5" fill="#ffffff" font-weight="bold" textLength="81.34" lengthAdjust="spacingAndGlyphs" stroke="#ffffff" stroke-width="1.9" stroke-linejoin="round">16.715</text>
<text x="626.65" y="1228.9" font-family="'Liberation Sans', sans-serif" font-size="26.5" fill="#ffffff" font-weight="bold" textLength="89.11" lengthAdjust="spacingAndGlyphs" stroke="#ffffff" stroke-width="1.9" stroke-linejoin="round">10.857</text>
<g transform="translate(215.5,1316.4) rotate(-90)">
<text x="-1.09" y="0" font-family="'Liberation Sans', sans-serif" font-size="20.8" fill="#1b1b22" textLength="54.47" lengthAdjust="spacingAndGlyphs">Март</text>
</g>
<g transform="translate(290.3,1333) rotate(-90)">
<text x="0.0" y="0" font-family="'Liberation Sans', sans-serif" font-size="20.8" fill="#1b1b22" textLength="71.85" lengthAdjust="spacingAndGlyphs">Април</text>
</g>
<g transform="translate(365.2,1298) rotate(-90)">
<text x="-1.11" y="0" font-family="'Liberation Sans', sans-serif" font-size="20.8" fill="#1b1b22" textLength="37.29" lengthAdjust="spacingAndGlyphs">Мај</text>
</g>
<g transform="translate(440.0,1312) rotate(-90)">
<text x="0.0" y="0" font-family="'Liberation Sans', sans-serif" font-size="20.8" fill="#1b1b22" textLength="50.21" lengthAdjust="spacingAndGlyphs">Јуни</text>
</g>
<g transform="translate(514.9,1311.3) rotate(-90)">
<text x="0.0" y="0" font-family="'Liberation Sans', sans-serif" font-size="20.8" fill="#1b1b22" textLength="49.49" lengthAdjust="spacingAndGlyphs">Јули</text>
</g>
<g transform="translate(589.7,1333) rotate(-90)">
<text x="0.0" y="0" font-family="'Liberation Sans', sans-serif" font-size="20.8" fill="#1b1b22" textLength="69.97" lengthAdjust="spacingAndGlyphs">Август</text>
</g>
<g transform="translate(664.5,1383.9) rotate(-90)">
<text x="-1.15" y="0" font-family="'Liberation Sans', sans-serif" font-size="20.8" fill="#1b1b22" textLength="123.26" lengthAdjust="spacingAndGlyphs">Септември</text>
</g>
<g transform="translate(739.4,1372.4) rotate(-90)">
<text x="0.0" y="0" font-family="'Liberation Sans', sans-serif" font-size="20.8" fill="#1b1b22" textLength="110.62" lengthAdjust="spacingAndGlyphs">Октомври</text>
</g>
<g transform="translate(85.3,1205.5) rotate(-90)">
<text x="-0.95" y="0" font-family="'Liberation Sans', sans-serif" font-size="21" fill="#1b1b22" textLength="43.95" lengthAdjust="spacingAndGlyphs">Број</text>
<text x="51.35" y="0" font-family="'Liberation Sans', sans-serif" font-size="21" fill="#1b1b22" textLength="22.15" lengthAdjust="spacingAndGlyphs">на</text>
<text x="82.5" y="0" font-family="'Liberation Sans', sans-serif" font-size="21" fill="#1b1b22" textLength="62.13" lengthAdjust="spacingAndGlyphs">лица,</text>
<text x="149.66" y="0" font-family="'Liberation Sans', sans-serif" font-size="21" fill="#1b1b22" textLength="140.81" lengthAdjust="spacingAndGlyphs">кумулативно</text>
</g>
<text x="437.41" y="1412.8" font-family="'Liberation Sans', sans-serif" font-size="23.3" fill="#1b1b22" textLength="56.75" lengthAdjust="spacingAndGlyphs">2020</text>
<rect x="784.4" y="943.8" width="14.6" height="14.4" fill="#98d3d5"/>
<text x="806.7" y="958.8" font-family="'Liberation Sans', sans-serif" font-size="23.2" fill="#1b1b22" textLength="304.52" lengthAdjust="spacingAndGlyphs">Активација на претходно</text>
<text x="806.16" y="991.8" font-family="'Liberation Sans', sans-serif" font-size="23.2" fill="#1b1b22" textLength="238.36" lengthAdjust="spacingAndGlyphs">пасивно население</text>
<rect x="784.4" y="1032.8" width="14.6" height="14.4" fill="#584a8c"/>
<text x="806.16" y="1047.6" font-family="'Liberation Sans', sans-serif" font-size="23.2" fill="#1b1b22" textLength="233.86" lengthAdjust="spacingAndGlyphs">Прилив на активно</text>
<text x="806.16" y="1080.6" font-family="'Liberation Sans', sans-serif" font-size="23.2" fill="#1b1b22" textLength="297.97" lengthAdjust="spacingAndGlyphs">население кое изгубило</text>
<text x="806.22" y="1113.6" font-family="'Liberation Sans', sans-serif" font-size="23.2" fill="#1b1b22" textLength="80.67" lengthAdjust="spacingAndGlyphs">работа</text>
<rect x="784.4" y="1143.8" width="14.6" height="14.4" fill="#11193a"/>
<text x="806.16" y="1158.2" font-family="'Liberation Sans', sans-serif" font-size="23.2" fill="#1b1b22" textLength="233.86" lengthAdjust="spacingAndGlyphs">Прилив на активно</text>
<text x="806.17" y="1191.3" font-family="'Liberation Sans', sans-serif" font-size="23.2" fill="#1b1b22" textLength="280.27" lengthAdjust="spacingAndGlyphs">население (на пример,</text>
<text x="807.3" y="1224.4" font-family="'Liberation Sans', sans-serif" font-size="23.2" fill="#1b1b22" textLength="252.59" lengthAdjust="spacingAndGlyphs">завршени ученици и</text>
<text x="807.3" y="1257.5" font-family="'Liberation Sans', sans-serif" font-size="23.2" fill="#1b1b22" textLength="300.81" lengthAdjust="spacingAndGlyphs">студенти) кое не можело</text>
<text x="807.3" y="1290.5" font-family="'Liberation Sans', sans-serif" font-size="23.2" fill="#1b1b22" textLength="185.69" lengthAdjust="spacingAndGlyphs">да најде работа</text>
<text x="218.39" y="1487.4" font-family="'Liberation Sans', sans-serif" font-size="42.7" fill="#1f7fc4" textLength="169.55" lengthAdjust="spacingAndGlyphs" stroke="#f5f9fd" stroke-width="1.2">FINANCE</text>
<text x="391.85" y="1479.2" font-family="'Liberation Serif', serif" font-size="31.5" fill="#111111" font-weight="bold" textLength="95.35" lengthAdjust="spacingAndGlyphs" stroke="#111111" stroke-width="0.7" stroke-linejoin="round">THINK</text>
<text x="391.8" y="1488.9" font-family="'Liberation Sans', sans-serif" font-size="7.4" fill="#333333" textLength="95.93" lengthAdjust="spacing">OUT OF THE BOX</text>
<rect x="220.4" y="1491" width="269" height="2" fill="#1a1a1a"/>
<g fill="none" stroke="#6a6c71" stroke-width="1.5" stroke-linecap="round"><path d="M480,1500 L476.5,1490 C472,1482 466,1476 466.5,1462 C467,1448 478,1439.5 489.5,1439.5 C502,1439.5 512,1449 512,1462 C512,1474 501,1480 497,1489 L494,1500"/><path d="M475.3,1450.1 A18.5,18.5 0 0 1 507.4,1466.8"/><path d="M487.5,1450.7 A11.5,11.5 0 0 1 501,1461"/></g>
<path d="M480,1500.5 L494,1500.5 L492.5,1505.5 Q487,1511 481.5,1505.5 Z" fill="#77797e"/>
<rect x="522.7" y="1438.4" width="2.3" height="70.3" fill="#15151c"/>
<path d="M566,1439 Q573.1,1440.5 573.1,1446.5 L573.1,1485.6 Q573.1,1487.6 571.1,1487.6 L566,1487.6 Z" fill="#2346a0"/>
<path d="M573.1,1460.8 Q577.5,1458.2 583.5,1458.3 L589.4,1458.6 L589.4,1485.6 Q589.4,1487.6 587.4,1487.6 L582.9,1487.6 L582.9,1474.5 C582.9,1468 579.5,1464.8 573.1,1465.8 Z" fill="#2346a0"/>
<path d="M593.1,1458.6 L598,1458.3 Q603,1458 607.5,1458.2 L607.5,1465.1 C603,1465 600,1468 600,1474.5 L600,1487.6 L595.1,1487.6 Q593.1,1487.6 593.1,1485.6 Z" fill="#2346a0"/>
<circle cx="590.9" cy="1454.9" r="6.6" fill="#f6c22b"/>
<text x="530.9" y="1509.9" font-family="'Liberation Sans', sans-serif" font-size="9" fill="#5b6fa6" textLength="105.58" lengthAdjust="spacingAndGlyphs">HR EXCELLENCE IN RESEARCH</text>
<text x="651.57" y="1467.8" font-family="'Liberation Serif', serif" font-size="14.6" fill="#111111" font-weight="bold" font-style="italic" textLength="50.04" lengthAdjust="spacingAndGlyphs">Извор:</text>
<text x="706.64" y="1467.8" font-family="'Liberation Serif', serif" font-size="14.6" fill="#111111" font-style="italic" textLength="251.03" lengthAdjust="spacingAndGlyphs">АВРСМ и пресметки на Finance Think.</text>
<text x="651.6" y="1487.2" font-family="'Liberation Serif', serif" font-size="14.6" fill="#111111" font-weight="bold" font-style="italic" textLength="116.43" lengthAdjust="spacingAndGlyphs">Визуелизација:</text>
<text x="772.34" y="1487.2" font-family="'Liberation Serif', serif" font-size="14.6" fill="#111111" font-style="italic" textLength="92.03" lengthAdjust="spacingAndGlyphs">Finance Think.</text>
</svg>
</body>
</html>
